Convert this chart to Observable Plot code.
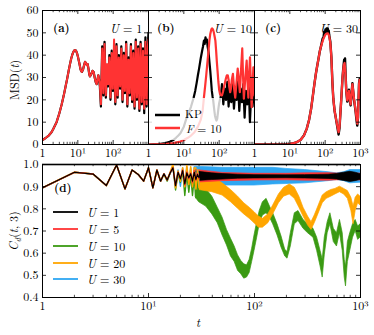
<!DOCTYPE html>
<html><head><meta charset="utf-8">
<script src="https://cdn.jsdelivr.net/npm/d3@7"></script>
<script src="https://cdn.jsdelivr.net/npm/@observablehq/plot@0.6"></script>
<style>
body{margin:0;background:#fff;}
#wrap{position:relative;width:374px;height:335px;font-family:"Latin Modern Roman","Liberation Serif",serif;color:#000;overflow:hidden;}
#wrap svg{position:absolute;left:0;top:0;}
.lab{position:absolute;font-size:12px;white-space:nowrap;line-height:1;}
</style></head><body><div id="wrap"></div>
<script>
// ---------- tick values / labels ----------
const xMajor = [1, 10, 100, 1000];
const xMinor = [2,3,4,5,6,7,8,9,20,30,40,50,60,70,80,90,200,300,400,500,600,700,800,900];
const xLabelValsAB = [1, 10, 100];
const xLabelsAB = ["1", "10¹", "10²"];
const xLabelValsC = [1, 10, 100, 1000];
const xLabelsC = ["1", "10¹", "10²", "10³"];
const msdTicks = [0, 10, 20, 30, 40, 50, 60];
const msdTickLabels = ["0", "10", "20", "30", "40", "50", "60"];
const cdTicks = [0.4, 0.5, 0.6, 0.7, 0.8, 0.9, 1.0];
const cdTickLabels = ["0.4", "0.5", "0.6", "0.7", "0.8", "0.9", "1.0"];

// ---------- panel (a) U = 1 ----------
const aSmooth = [[1,2.0],[1.2,2.8],[1.5,4.0],[1.8,5.5],[2,6.8],[2.5,10],[3,14],[3.5,18],[4,22],[4.5,26],[5,29.5],[5.5,33],[6,36],[6.5,38.5],[7,40.3],[7.5,41.5],[8,42.2],[8.5,42.3],[9,41.8],[9.5,40.8],[10,39.5],[11,36.5],[12,33.5],[13,32.5],[14,33.5],[15,35.5],[16,37],[17,36.5],[18,35.5],[19,36],[20,34],[21,31.5],[22,30.5],[24,31.5],[26,33],[28,32.5],[30,30],[32,28],[34,27],[36,29],[38,31],[40,29]];
const aNoiseT = [42,45,49,53,57,62,67,72,78,84,91,98,106,115,124,134,145,157,170,184,199,215,233,252,272,294,318,344,372,403,436,471,510,552,597,646,699,756,818,885,957,1000];
const aKPNoise = [26,17,44,22,46,21,35,26,40,20,42,24,38,18,45,21,40,25,44,19,41,23,46,17,39,22,45,19,42,16,47,20,44,15,46,18,43,14,48,17,45,50];
const aF10Noise = [27,18,43,23,45,22,36,27,39,21,41,25,47,19,44,22,39,26,43,20,40,24,45,18,38,23,44,20,41,17,46,21,43,16,45,19,42,16,46,18,44,47];

// ---------- panel (b) U = 10 ----------
const bKP = [[1,0],[2,0.2],[3,0.6],[4,1.2],[5,2],[6,3],[7,4],[8,5],[10,8],[12,12],[14,14.5],[16,17],[19,21],[21,24],[23,27.5],[25,31],[27,34],[30,38.5],[33,42],[35,44],[37,46.5],[39,45],[41,48],[43,46],[45,47],[47,44],[50,41.5],[53,37],[56,33],[59,28.5],[62,24],[65,21.5],[68,19.5],[72,16],[76,13],[80,11.5],[84,10.7],[88,11.5],[92,14],[96,16.5],[100,18.5],[105,20],[110,21],[120,27],[131,18],[143,25],[156,20],[170,28],[185,17],[202,26],[220,19],[240,27],[262,16],[286,24],[312,20],[340,29],[371,15],[405,25],[441,19],[481,27],[525,12],[572,24],[624,18],[681,28],[742,10],[809,23],[882,17],[962,25],[1000,20]];
const bF10 = [[1,0],[3,0.2],[5,0.6],[8,1.3],[10,2],[13,3],[16,4],[20,5.5],[25,8],[30,11],[34,15],[37,21],[40,26],[43,31],[46,36],[50,42],[53,46.6],[56,49.5],[60,51.5],[63,52],[67,51.5],[71,50],[75,48],[78,46.6],[82,42],[86,37],[90,33],[95,28],[100,24.5],[106,22.5],[113,22],[120,22],[128,23.5],[136,25.5],[145,27.5],[155,29.5],[165,31],[175,31],[185,29],[195,25.5],[205,23.4],[215,25],[228,29],[245,31.6],[265,25],[285,21],[310,28],[335,34],[360,29],[385,23.4],[415,33],[450,43],[475,30],[500,20.5],[550,30],[600,37.6],[635,28],[670,21],[710,32],[745,39],[790,27],[830,16.7],[880,26],[930,34.6],[970,27],[1000,22]];

// ---------- panel (c) U = 30 ----------
const cKP = [[1,0],[5,0],[8,0.1],[10,0.3],[13,0.6],[16,1.1],[20,2],[25,4],[30,7],[35,11],[40,16],[45,22],[50,27.5],[55,32],[60,35.5],[65,38.5],[70,41.5],[75,43.5],[80,45.5],[85,47.5],[90,48],[94,50.5],[98,49],[102,51.5],[106,50],[110,52],[114,50.5],[118,52],[122,50.5],[126,51],[130,49],[140,46],[150,39],[160,28],[170,20.5],[185,15],[200,12],[220,8],[240,4.5],[255,7.5],[270,14],[290,22],[310,30],[325,34],[335,36],[345,38],[355,37.5],[365,38.5],[375,33],[395,24],[422,19.2],[445,22],[470,24.5],[500,19.5],[525,17.5],[560,23],[590,27.5],[620,24],[650,20.5],[690,17.5],[730,14.5],[770,11],[810,8.5],[850,12],[880,20],[910,27.5],[950,29.5],[1000,29]];
const cF10 = [[1,0],[5,0],[8,0.1],[10,0.3],[13,0.6],[16,1.1],[20,2],[25,4],[30,7],[35,11],[40,16],[45,22],[50,27.5],[55,32],[60,35.5],[65,38.5],[70,41.5],[75,43.5],[80,45],[90,47.5],[100,49],[110,49.8],[120,49.8],[130,48.5],[140,45.5],[150,39],[160,28],[170,20.5],[185,15],[200,12],[220,8.5],[240,5.5],[255,8],[270,14],[290,22],[310,30],[335,35.5],[355,36.5],[375,32],[395,24],[422,19.7],[445,22],[470,24],[500,20],[525,18],[560,23],[590,27],[620,24],[650,21],[690,18],[730,15],[770,12],[810,9.3],[850,12],[880,20],[910,27],[950,29],[1000,29]];

// ---------- panel (d) C_d(t,3) ----------
const earlyT = [1,2,3,4,5,6,7,8,9,10,11,12,13,14,15,16,17,18,19,20,21,22,23,24,25,26,27,28,29,30];
const dU1Early  = [0.895,0.965,0.957,0.905,0.998,0.890,0.975,0.955,0.925,0.985,0.895,0.975,0.925,0.958,0.930,0.962,0.985,0.905,0.965,0.935,0.972,0.912,0.962,0.940,0.958,0.925,0.965,0.933,0.955,0.940];
const dU5Early  = [0.895,0.965,0.957,0.905,0.998,0.890,0.975,0.955,0.925,0.985,0.895,0.975,0.925,0.958,0.930,0.962,0.985,0.905,0.965,0.938,0.975,0.908,0.966,0.936,0.962,0.918,0.972,0.928,0.960,0.935];
const dU10Early = [0.895,0.965,0.957,0.905,0.998,0.890,0.975,0.955,0.925,0.985,0.895,0.975,0.925,0.955,0.925,0.960,0.990,0.885,0.960,0.920,0.970,0.860,0.955,0.875,0.950,0.860,0.940,0.850,0.930,0.840];
const dU20Early = [0.895,0.965,0.957,0.905,0.998,0.890,0.975,0.955,0.925,0.985,0.895,0.975,0.925,0.958,0.930,0.965,1.000,0.895,0.970,0.925,0.985,0.900,0.995,0.910,0.990,0.900,0.985,0.890,0.975,0.895];
const dU30Early = [0.895,0.965,0.957,0.905,0.998,0.890,0.975,0.955,0.925,0.985,0.895,0.975,0.925,0.958,0.930,0.962,0.987,0.903,0.975,0.902,0.985,0.905,0.988,0.900,0.985,0.905,0.990,0.900,0.985,0.910];
// bands [t, low, high]
const dU1Band = [[28,0.925,0.968],[40,0.930,0.960],[50,0.932,0.957],[70,0.936,0.954],[100,0.937,0.952],[200,0.938,0.951],[300,0.937,0.952],[400,0.936,0.953],[500,0.935,0.954],[600,0.932,0.957],[700,0.926,0.963],[800,0.921,0.967],[900,0.925,0.963],[1000,0.931,0.956]];
const dU5Band = [[28,0.918,0.975],[50,0.925,0.962],[100,0.928,0.958],[200,0.929,0.958],[300,0.927,0.960],[500,0.927,0.961],[700,0.930,0.958],[1000,0.928,0.959]];
const dU10Band = [[28,0.85,0.93],[30,0.83,0.92],[35,0.81,0.89],[40,0.775,0.855],[45,0.735,0.805],[50,0.68,0.76],[55,0.635,0.705],[60,0.585,0.665],[65,0.56,0.63],[70,0.52,0.59],[75,0.505,0.565],[80,0.485,0.55],[85,0.49,0.545],[90,0.51,0.57],[95,0.56,0.62],[100,0.61,0.68],[106,0.67,0.74],[112,0.73,0.79],[120,0.77,0.83],[130,0.78,0.845],[140,0.76,0.81],[150,0.73,0.78],[165,0.68,0.73],[180,0.625,0.675],[195,0.585,0.615],[205,0.575,0.605],[220,0.63,0.69],[240,0.73,0.78],[260,0.745,0.79],[290,0.71,0.75],[320,0.69,0.73],[360,0.67,0.71],[390,0.61,0.67],[420,0.54,0.61],[440,0.49,0.57],[460,0.59,0.67],[490,0.69,0.74],[520,0.73,0.78],[560,0.65,0.71],[600,0.63,0.69],[640,0.69,0.75],[680,0.61,0.69],[710,0.49,0.57],[730,0.45,0.54],[760,0.56,0.65],[800,0.61,0.69],[850,0.67,0.73],[900,0.70,0.75],[950,0.66,0.72],[1000,0.67,0.73]];
const dU20Band = [[28,0.89,0.985],[30,0.885,0.975],[40,0.875,0.945],[50,0.86,0.915],[60,0.83,0.885],[70,0.80,0.855],[80,0.775,0.825],[90,0.755,0.805],[100,0.735,0.785],[110,0.715,0.765],[120,0.715,0.755],[135,0.735,0.775],[150,0.775,0.815],[170,0.825,0.865],[190,0.855,0.895],[215,0.865,0.91],[240,0.845,0.895],[265,0.805,0.855],[290,0.765,0.805],[320,0.725,0.765],[345,0.705,0.74],[370,0.735,0.77],[400,0.775,0.81],[440,0.825,0.86],[480,0.845,0.875],[530,0.855,0.885],[580,0.865,0.89],[640,0.875,0.90],[700,0.865,0.89],[760,0.845,0.88],[820,0.79,0.85],[860,0.73,0.81],[900,0.79,0.85],[950,0.825,0.865],[1000,0.815,0.855]];
const dU30Band = [[28,0.90,0.99],[50,0.905,0.985],[100,0.905,0.985],[150,0.91,0.985],[200,0.912,0.98],[300,0.915,0.975],[500,0.925,0.965],[600,0.93,0.96],[700,0.925,0.965],[800,0.915,0.975],[1000,0.918,0.975]];

// ---------- build ----------
const FONT = '"Latin Modern Roman","Liberation Serif",serif';
const COL = {black: "#000000", red: "#ff3333", green: "#3a9a12", orange: "#ffa500", blue: "#2ea6f2"};
const W = 374, H = 335;
const wrap = document.getElementById("wrap");

const pairRows = p => p.map(([t, v]) => ({t, v}));
const zipRows = (ts, vs) => ts.map((t, i) => ({t, v: vs[i]}));
const bandRows = b => b.map(([t, lo, hi]) => ({t, lo, hi}));

function panel({x0, x1, y0, y1, yDomain, yTicks, yLabels, xVals, xLabels, marks}) {
  const w = x1 - x0, h = y1 - y0;
  const tickMarks = [
    Plot.ruleX(xMajor, {insetTop: h - 4, strokeWidth: 0.8}),
    Plot.ruleX(xMajor, {insetBottom: h - 4, strokeWidth: 0.8}),
    Plot.ruleX(xMinor, {insetTop: h - 2.2, strokeWidth: 0.7}),
    Plot.ruleX(xMinor, {insetBottom: h - 2.2, strokeWidth: 0.7}),
    Plot.ruleY(yTicks, {insetRight: w - 4, strokeWidth: 0.8}),
    Plot.ruleY(yTicks, {insetLeft: w - 4, strokeWidth: 0.8}),
    Plot.frame({stroke: "black", strokeWidth: 1}),
    Plot.axisX({ticks: xVals, tickFormat: d => xLabels[xVals.indexOf(d)], tickSize: 0, tickPadding: 4, label: null, fontSize: 12})
  ];
  if (yLabels) tickMarks.push(Plot.axisY({ticks: yTicks, tickFormat: d => yLabels[yTicks.indexOf(d)], tickSize: 0, tickPadding: 4, label: null, fontSize: 12}));
  const svg = Plot.plot({
    width: W, height: H,
    marginLeft: x0, marginRight: W - x1, marginTop: y0, marginBottom: H - y1,
    style: {background: "none", fontFamily: FONT, fontSize: "12px", overflow: "visible"},
    x: {type: "log", domain: [1, 1000]},
    y: yLabels ? {domain: yDomain} : {domain: yDomain, axis: null},
    marks: [...marks, ...tickMarks]
  });
  wrap.appendChild(svg);
}

const lineOpt = (c, sw) => ({x: "t", y: "v", stroke: c, strokeWidth: sw, clip: true, strokeLinejoin: "round"});

// (a)
panel({x0: 42, x1: 148, y0: 10, y1: 144, yDomain: [0, 60], yTicks: msdTicks, yLabels: msdTickLabels,
  xVals: xLabelValsAB, xLabels: xLabelsAB, marks: [
    Plot.line(pairRows(aSmooth).concat(zipRows(aNoiseT, aKPNoise)), lineOpt(COL.black, 2.2)),
    Plot.line(pairRows(aSmooth).concat(zipRows(aNoiseT, aF10Noise)), lineOpt(COL.red, 2))
  ]});
// (b)
panel({x0: 148, x1: 254, y0: 10, y1: 144, yDomain: [0, 60], yTicks: msdTicks, yLabels: null,
  xVals: xLabelValsAB, xLabels: xLabelsAB, marks: [
    Plot.line(pairRows(bKP), lineOpt(COL.black, 2.2)),
    Plot.line(pairRows(bF10), lineOpt(COL.red, 2.2))
  ]});
// (c)
panel({x0: 254, x1: 360, y0: 10, y1: 144, yDomain: [0, 60], yTicks: msdTicks, yLabels: null,
  xVals: xLabelValsC, xLabels: xLabelsC, marks: [
    Plot.line(pairRows(cKP), lineOpt(COL.black, 2.4)),
    Plot.line(pairRows(cF10), lineOpt(COL.red, 2.2))
  ]});
// (d)
const areaOpt = c => ({x: "t", y1: "lo", y2: "hi", fill: c, stroke: c, strokeWidth: 0.7, clip: true});
panel({x0: 42, x1: 360, y0: 164, y1: 297, yDomain: [0.4, 1.0], yTicks: cdTicks, yLabels: cdTickLabels,
  xVals: xLabelValsC, xLabels: xLabelsC, marks: [
    Plot.ruleY([1.0], {stroke: "#9a9a9a", strokeWidth: 2.5}),
    Plot.areaY(bandRows(dU30Band), areaOpt(COL.blue)),
    Plot.areaY(bandRows(dU10Band), areaOpt(COL.green)),
    Plot.areaY(bandRows(dU20Band), areaOpt(COL.orange)),
    Plot.areaY(bandRows(dU5Band), areaOpt(COL.red)),
    Plot.areaY(bandRows(dU1Band), areaOpt(COL.black)),
    Plot.line(zipRows(earlyT, dU30Early), lineOpt(COL.blue, 1.4)),
    Plot.line(zipRows(earlyT, dU10Early), lineOpt(COL.green, 1.4)),
    Plot.line(zipRows(earlyT, dU20Early), lineOpt(COL.orange, 1.6)),
    Plot.line(zipRows(earlyT, dU5Early), lineOpt(COL.red, 1.4)),
    Plot.line(zipRows(earlyT, dU1Early), lineOpt(COL.black, 1.2))
  ]});

// ---------- text overlays ----------
function label(html, css) {
  const d = document.createElement("div");
  d.className = "lab";
  d.innerHTML = html;
  Object.assign(d.style, css);
  wrap.appendChild(d);
  return d;
}
label("<b>(a)</b>", {left: "53px", top: "22px", fontSize: "11.5px"});
label("<i>U</i> = 1", {left: "110px", top: "22px"});
label("<b>(b)</b>", {left: "157px", top: "22px", fontSize: "11.5px"});
label("<i>U</i> = 10", {right: (374 - 252) + "px", top: "22px"});
label("<b>(c)</b>", {left: "265px", top: "22px", fontSize: "11.5px"});
label("<i>U</i> = 30", {right: (374 - 358) + "px", top: "22px"});
label("<b>(d)</b>", {left: "54px", top: "182px", fontSize: "11.5px"});
label("MSD(<i>t</i>)", {left: "14px", top: "80px", transform: "translate(-50%,-50%) rotate(-90deg)"});
label("<i>C<sub style='font-size:8.5px'>d</sub></i>(<i>t</i>, 3)", {left: "14px", top: "231px", transform: "translate(-50%,-50%) rotate(-90deg)"});
label("<i>t</i>", {left: "198px", top: "322px", transform: "translate(-50%,-50%)"});

// legend (b): translucent box over the curves
const lb = document.createElement("div");
Object.assign(lb.style, {position: "absolute", left: "149px", top: "98px", width: "73px", height: "42px", background: "rgba(255,255,255,0.8)"});
lb.innerHTML = `<svg width="73" height="42" style="position:absolute;left:0;top:0">
<line x1="6" x2="31" y1="17" y2="17" stroke="${COL.black}" stroke-width="2.5"/>
<line x1="6" x2="31" y1="30" y2="30" stroke="${COL.red}" stroke-width="2.5"/></svg>`;
wrap.appendChild(lb);
label("KP", {left: "185px", top: "108px", fontSize: "11.5px"});
label("<i>F</i> = 10", {left: "186px", top: "123px", fontSize: "11.5px"});

// legend (d)
const legItems = [["1", COL.black], ["5", COL.red], ["10", COL.green], ["20", COL.orange], ["30", COL.blue]];
const legY = [212, 229, 246, 263, 279];
const ld = document.createElement("div");
Object.assign(ld.style, {position: "absolute", left: "0px", top: "0px", width: "374px", height: "335px"});
ld.innerHTML = `<svg width="374" height="335" style="position:absolute;left:0;top:0">${legItems.map((it, i) => `<line x1="53" x2="78" y1="${legY[i]}" y2="${legY[i]}" stroke="${it[1]}" stroke-width="1.8"/>`).join("")}</svg>`;
wrap.appendChild(ld);
legItems.forEach((it, i) => label(`<i>U</i> = ${it[0]}`, {left: "87px", top: (legY[i] - 6) + "px"}));
</script></body></html>
